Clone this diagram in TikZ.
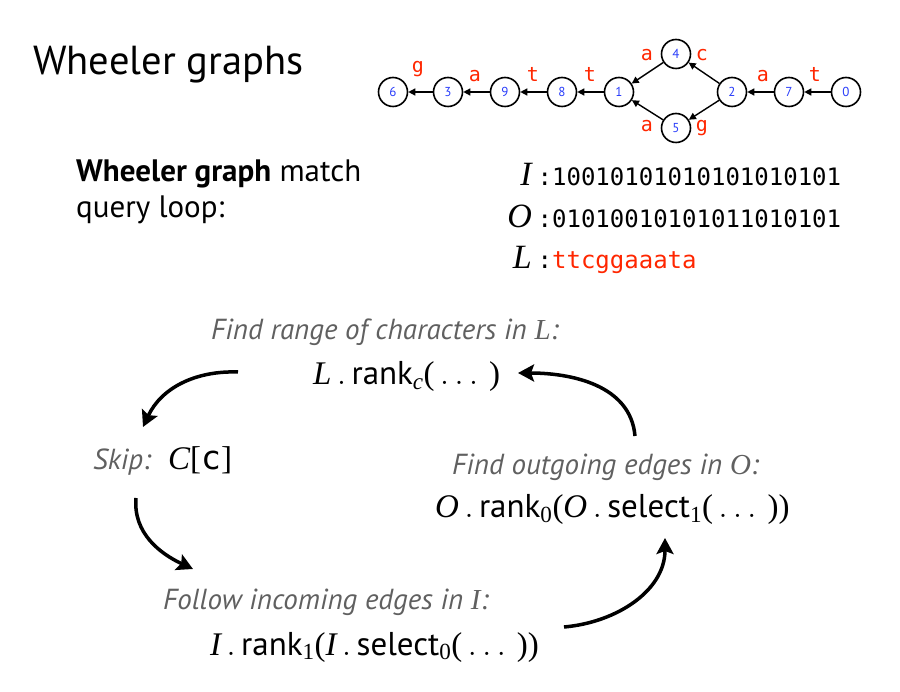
\RequirePackage{fix-cm}
\documentclass[tikz,border=0pt]{standalone}
\usepackage{amsmath}
\usepackage[no-math]{fontspec}
\setmainfont{PT Sans}
\setmonofont{DejaVu Sans Mono}
\newfontfamily\vfont{Liberation Serif}
\usetikzlibrary{arrows.meta}
\definecolor{lblred}{RGB}{255,38,0}
\definecolor{numblue}{RGB}{40,60,250}
\definecolor{hintgray}{RGB}{96,96,96}
\newcommand{\fsz}[1]{\fontsize{#1}{#1}\selectfont}
\newcommand{\vr}[1]{\text{\vfont\itshape #1}}
\newcommand{\sv}[1]{\text{\vfont #1}}
\tikzset{
  vtx/.style={circle, draw, line width=1.6pt, minimum size=29pt, inner sep=0pt, text=numblue, font=\fsz{13}},
  elab/.style={anchor=base, inner sep=0pt, text=lblred, font=\ttfamily\fsz{20}},
  gedge/.style={-{Triangle[length=7pt,width=7pt]}, line width=1.4pt},
  flow/.style={-{Stealth[length=16pt,width=17pt,inset=3pt]}, line width=3.5pt},
  txt/.style={anchor=base west, inner sep=0pt},
  hint/.style={txt, text=hintgray, font=\itshape\fsz{29}},
  formula/.style={txt, font=\fsz{33}},
}
\begin{document}
\begin{tikzpicture}[x=1pt,y=1pt]
\useasboundingbox (0,0) rectangle (900,-692);
\node[txt, font=\fsz{40.5}] (title) at (33,-75) {Wheeler graphs};
% the graph
\foreach \n/\x/\y in {6/393/92, 3/448/92, 9/505/92, 8/562/92, 1/619/92,
    4/676/54, 5/676/128, 2/732/92, 7/789/92, 0/846/92}
  \node[vtx] (n\n) at (\x,-\y) {\n};
\foreach \a/\b in {0/7, 7/2, 2/4, 2/5, 4/1, 5/1, 1/8, 8/9, 9/3, 3/6}
  \draw[gedge] (n\a) -- (n\b);
\foreach \c/\x/\y [count=\i] in {g/418/73, a/475/82, t/533/82, t/590/82, a/647/61,
    c/702/61, a/647/132, g/702/132, a/763/82, t/815/82}
  \node[elab] (lab\i) at (\x,-\y) {\c};
% bit vectors
\node[txt, font=\fsz{31}] (wgm) at (76,-182) {\textbf{Wheeler graph} match};
\node[txt, font=\fsz{31}] (qloop) at (76,-218) {query loop:};
\foreach \nm/\y/\bits/\col in {I/186/10010101010101010101/black,
    O/228/01010010101011010101/black, L/269/ttcggaaata/lblred} {
  \node[anchor=base east, inner sep=0pt, font=\vfont\itshape\fsz{34}] (sym\nm) at (532,-\y) {\nm};
  \node[txt, font=\ttfamily\fsz{24}] (bits\nm) at (537.5,-\y) {:\textcolor{\col}{\bits}};
}
% query loop
\node[hint] (hrange) at (211,-340) {Find range of characters in {\vfont\itshape L}:};
\node[formula] (frank) at (313,-385) {$\vr{L}\,.\,\text{rank}_{\vr{c}}\sv{(}\ldots\,\sv{)}$};
\node[hint] (hskip) at (93,-470) {Skip:};
\node[formula] (fskip) at (168,-470) {$\vr{C}\sv{[}\text{\ttfamily c}\sv{]}$};
\node[hint] (hout) at (452,-475) {Find outgoing edges in {\vfont\itshape O}:};
\node[formula] (fout) at (435,-518) {$\vr{O}\,.\,\text{rank}_{\sv{0}}\sv{(}\vr{O}\,.\,\text{select}_{\sv{1}}\sv{(}\ldots\,\sv{))}$};
\node[hint] (hin) at (163,-609) {Follow incoming edges in {\vfont\itshape I}:};
\node[formula] (fin) at (210,-655) {$\vr{I}\,.\,\text{rank}_{\sv{1}}\sv{(}\vr{I}\,.\,\text{select}_{\sv{0}}\sv{(}\ldots\,\sv{))}$};
\coordinate (f1s) at (238,-372); \coordinate (f1e) at (143,-427);
\coordinate (f2s) at (635,-436); \coordinate (f2e) at (518,-373);
\coordinate (f3s) at (136,-498); \coordinate (f3e) at (193,-569);
\coordinate (f4s) at (564,-627); \coordinate (f4e) at (665,-538);
\draw[flow] (f1s) to[out=178, in=65] (f1e);
\draw[flow] (f2s) to[out=95, in=0] (f2e);
\draw[flow] (f3s) to[out=-95, in=155] (f3e);
\draw[flow] (f4s) to[out=5, in=-90] (f4e);
\end{tikzpicture}
\end{document}
